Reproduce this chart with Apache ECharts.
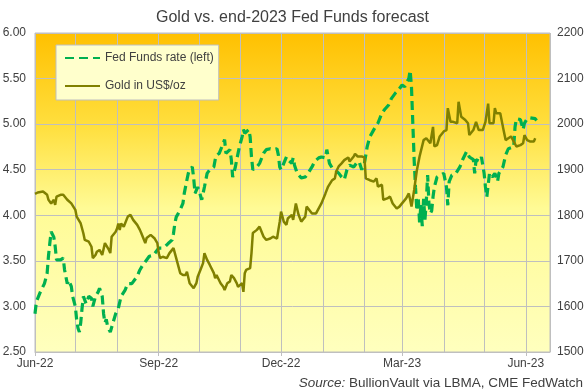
<!DOCTYPE html>
<html><head><meta charset="utf-8">
<script src="https://cdn.jsdelivr.net/npm/echarts@6/dist/echarts.min.js"></script>
<style>html,body{margin:0;padding:0;background:#fff}#c{width:585px;height:391px}</style>
</head><body><div id="c"></div>
<script>
// Day offsets are counted from 1 June 2022
const axisEndDay = 383;
const quarterDays = [0, 92, 183, 273, 365]; // Jun-22, Sep-22, Dec-22, Mar-23, Jun-23
const monthNames = ['Jan','Feb','Mar','Apr','May','Jun','Jul','Aug','Sep','Oct','Nov','Dec'];

const fedDays = [
  0,1,4,6,7,9,10,11,12,14,
  15,16,17,19,21,22,24,25,26,27,
  28,30,31,32,33,34,35,36,37,38,
  40,42,43,45,47,48,50,51,52,53,
  54,55,56,58,60,62,64,67,69,72,
  73,76,78,80,83,85,88,90,92,94,
  97,99,102,103,104,105,108,110,111,113,
  114,115,117,118,119,121,123,124,126,128,
  130,133,134,135,137,140,141,142,145,146,
  147,149,150,151,152,154,155,156,157,159,
  160,161,162,165,167,168,170,172,175,177,
  180,181,182,183,185,187,188,191,192,193,
  195,198,201,203,206,208,211,213,216,217,
  219,221,223,226,228,230,232,234,237,239,
  241,243,245,247,249,252,255,258,260,263,
  265,268,270,273,275,278,279,280,281,282,
  283,284,285,286,287,288,289,290,291,292,
  293,294,295,296,297,299,301,304,306,307,
  308,310,313,316,318,321,323,326,327,328,
  331,332,334,335,336,338,340,342,344,345,
  348,350,352,356,357,358,361,363,364,366,
  368,372,373
];
const fedRate = [
  2.92,3.05,3.16,3.22,3.25,3.36,3.55,3.69,3.82,3.76,
  3.66,3.51,3.53,3.51,3.53,3.40,3.25,3.29,3.29,3.22,
  3.11,3.00,2.85,2.76,2.72,2.82,2.98,3.11,3.12,3.03,
  3.11,3.09,3.00,3.11,3.16,3.20,3.11,2.92,2.82,2.86,
  2.78,2.80,2.72,2.82,2.92,2.98,3.11,3.18,3.25,3.25,
  3.27,3.33,3.40,3.45,3.51,3.55,3.56,3.60,3.64,3.64,
  3.66,3.69,3.73,3.80,3.91,3.98,4.06,4.13,4.24,4.39,
  4.46,4.50,4.53,4.41,4.24,4.31,4.22,4.17,4.31,4.46,
  4.50,4.53,4.61,4.66,4.68,4.79,4.83,4.68,4.72,4.61,
  4.42,4.53,4.61,4.68,4.75,4.86,4.94,4.90,4.92,4.94,
  4.86,4.64,4.50,4.53,4.57,4.59,4.68,4.72,4.73,4.72,
  4.73,4.66,4.53,4.50,4.57,4.64,4.61,4.57,4.63,4.55,
  4.46,4.41,4.42,4.46,4.53,4.59,4.63,4.64,4.63,4.72,
  4.57,4.52,4.50,4.46,4.42,4.39,4.50,4.55,4.53,4.57,
  4.59,4.50,4.57,4.75,4.86,4.94,5.01,5.12,5.16,5.21,
  5.28,5.34,5.37,5.43,5.41,5.50,5.59,5.40,5.00,4.60,
  4.30,4.05,4.20,3.92,4.12,3.88,4.18,3.95,4.15,4.44,
  4.12,4.02,4.05,4.20,4.31,4.42,4.44,4.46,4.31,4.11,
  4.37,4.44,4.46,4.53,4.61,4.70,4.64,4.61,4.46,4.61,
  4.59,4.64,4.46,4.31,4.20,4.46,4.42,4.46,4.37,4.46,
  4.53,4.66,4.73,4.75,4.97,5.06,5.05,4.94,5.01,5.06,
  5.07,5.06,5.04
];

const goldDays = [
  0,2,6,7,9,10,11,12,14,15,
  16,19,21,22,24,25,27,30,31,34,
  36,37,40,42,43,45,46,47,48,50,
  52,55,56,57,60,61,62,63,64,66,
  69,71,73,76,78,79,82,83,86,87,
  89,91,92,93,95,98,100,103,105,108,
  110,112,113,115,118,120,121,123,125,126,
  128,130,133,134,135,138,140,141,143,145,
  146,148,150,151,154,155,156,157,160,161,
  162,165,167,170,172,175,177,180,181,182,
  183,185,187,188,191,192,194,196,198,201,
  202,203,206,209,213,216,218,221,223,224,
  226,228,230,233,234,237,238,240,243,245,
  246,249,252,254,255,258,259,262,264,266,
  269,271,274,276,278,279,280,282,284,286,
  289,291,294,296,297,299,301,304,306,307,
  309,311,314,315,317,320,322,323,326,328,
  330,331,333,335,337,338,341,342,343,346,
  348,350,352,354,356,358,361,363,364,366,
  368,371,372
];
const goldPrice = [
  1847,1850,1852,1856,1845,1834,1834,1826,1834,1823,
  1841,1845,1845,1847,1834,1830,1826,1812,1797,1782,
  1760,1746,1742,1731,1706,1713,1720,1717,1724,1713,
  1739,1724,1717,1753,1764,1771,1782,1768,1782,1775,
  1797,1801,1790,1779,1768,1761,1739,1750,1757,1753,
  1749,1739,1717,1706,1709,1706,1717,1728,1706,1673,
  1669,1669,1676,1651,1640,1651,1665,1680,1695,1717,
  1702,1691,1673,1662,1669,1651,1643,1636,1651,1655,
  1669,1662,1651,1643,1651,1632,1673,1680,1684,1717,
  1761,1768,1775,1753,1746,1749,1753,1749,1768,1786,
  1808,1786,1779,1793,1801,1790,1826,1801,1786,1797,
  1819,1819,1804,1804,1826,1848,1863,1877,1881,1896,
  1908,1914,1921,1927,1918,1929,1935,1929,1929,1927,
  1881,1877,1874,1881,1863,1867,1834,1837,1841,1826,
  1815,1819,1830,1837,1848,1834,1819,1856,1899,1929,
  1965,1969,1958,1994,1951,1954,1973,1984,1987,2035,
  2005,2005,2002,2049,2016,2009,2002,1976,1987,2005,
  1987,1984,1987,2005,2045,2002,2002,2035,2024,2024,
  1994,1965,1969,1973,1962,1951,1954,1958,1976,1965,
  1962,1962,1969
];

function toTime(d) { return new Date(2022, 5, 1 + d).getTime(); }
const quarterTimes = quarterDays.map(toTime);
const fedData = fedDays.map((d, i) => [toTime(d), fedRate[i]]);
const goldData = goldDays.map((d, i) => [toTime(d), goldPrice[i]]);

const FONT = 'Liberation Sans, Arial, sans-serif';
const GRID = '#BFBFBF';
const TXT = '#404040';
const xMin = toTime(0), xMax = toTime(axisEndDay);

const chart = echarts.init(document.getElementById('c'), null, { renderer: 'canvas' });
chart.setOption({
  animation: false,
  backgroundColor: '#ffffff',
  textStyle: { fontFamily: FONT },
  title: [
    { text: 'Gold vs. end-2023 Fed Funds forecast', left: 'center', top: 10, padding: 0,
      textStyle: { fontSize: 16, fontWeight: 'normal', color: TXT, fontFamily: FONT } },
    { text: '{i|Source:} BullionVault via LBMA, CME FedWatch', right: 2, bottom: 1, padding: 0,
      textStyle: { fontSize: 13.5, fontWeight: 'normal', color: TXT, fontFamily: FONT,
        rich: { i: { fontStyle: 'italic', fontSize: 13.5, color: TXT, fontFamily: FONT } } } }
  ],
  legend: {
    orient: 'vertical', left: 56, top: 45, padding: [7, 5, 8, 8], itemGap: 16,
    itemWidth: 35, itemHeight: 14, backgroundColor: '#FFFFCC', borderColor: GRID, borderWidth: 1,
    itemStyle: { opacity: 0 },
    textStyle: { color: TXT, fontSize: 12, fontFamily: FONT },
    data: ['Fed Funds rate (left)', 'Gold in US$/oz']
  },
  grid: {
    left: 35, right: 35, top: 33, bottom: 39, containLabel: false, outerBoundsMode: 'none',
    show: true, borderColor: GRID, borderWidth: 1,
    backgroundColor: new echarts.graphic.LinearGradient(0, 0, 0, 1, [
      { offset: 0, color: '#FFC000' },
      { offset: 0.3, color: '#FFE040' },
      { offset: 0.55, color: '#FFFB96' },
      { offset: 1, color: '#FFFFBE' }
    ])
  },
  xAxis: [
    { type: 'time', min: xMin, max: xMax, splitNumber: 13, position: 'bottom',
      axisLine: { show: true, lineStyle: { color: GRID } },
      axisTick: { show: false }, axisLabel: { show: false },
      splitLine: { show: true, lineStyle: { color: GRID, width: 1 } } },
    { type: 'value', min: xMin, max: xMax, position: 'bottom',
      axisLine: { show: false },
      axisTick: { show: true, customValues: quarterTimes, length: 4, lineStyle: { color: GRID } },
      axisLabel: {
        customValues: quarterTimes, color: TXT, fontSize: 12, margin: 6, fontFamily: FONT,
        formatter: function (v) { const dt = new Date(v); return monthNames[dt.getMonth()] + '-' + String(dt.getFullYear()).slice(2); }
      },
      splitLine: { show: false } }
  ],
  yAxis: [
    { type: 'value', min: 2.5, max: 6, interval: 0.5, position: 'left',
      axisLine: { show: false }, axisTick: { show: false },
      axisLabel: { color: TXT, fontSize: 12, margin: 9, fontFamily: FONT, formatter: v => v.toFixed(2) },
      splitLine: { show: true, lineStyle: { color: GRID, width: 1 } } },
    { type: 'value', min: 1500, max: 2200, interval: 100, position: 'right',
      axisLine: { show: false }, axisTick: { show: false },
      axisLabel: { color: TXT, fontSize: 12, margin: 7, fontFamily: FONT, formatter: v => String(v) },
      splitLine: { show: false } }
  ],
  series: [
    { name: 'Fed Funds rate (left)', type: 'line', xAxisIndex: 0, yAxisIndex: 0, data: fedData, symbol: 'none',
      lineStyle: { color: '#00B050', width: 3.2, type: [9, 5] }, itemStyle: { color: '#00B050' } },
    { name: 'Gold in US$/oz', type: 'line', xAxisIndex: 0, yAxisIndex: 1, data: goldData, symbol: 'none',
      lineStyle: { color: '#808000', width: 2.5 }, itemStyle: { color: '#808000' } }
  ]
});
</script></body></html>
